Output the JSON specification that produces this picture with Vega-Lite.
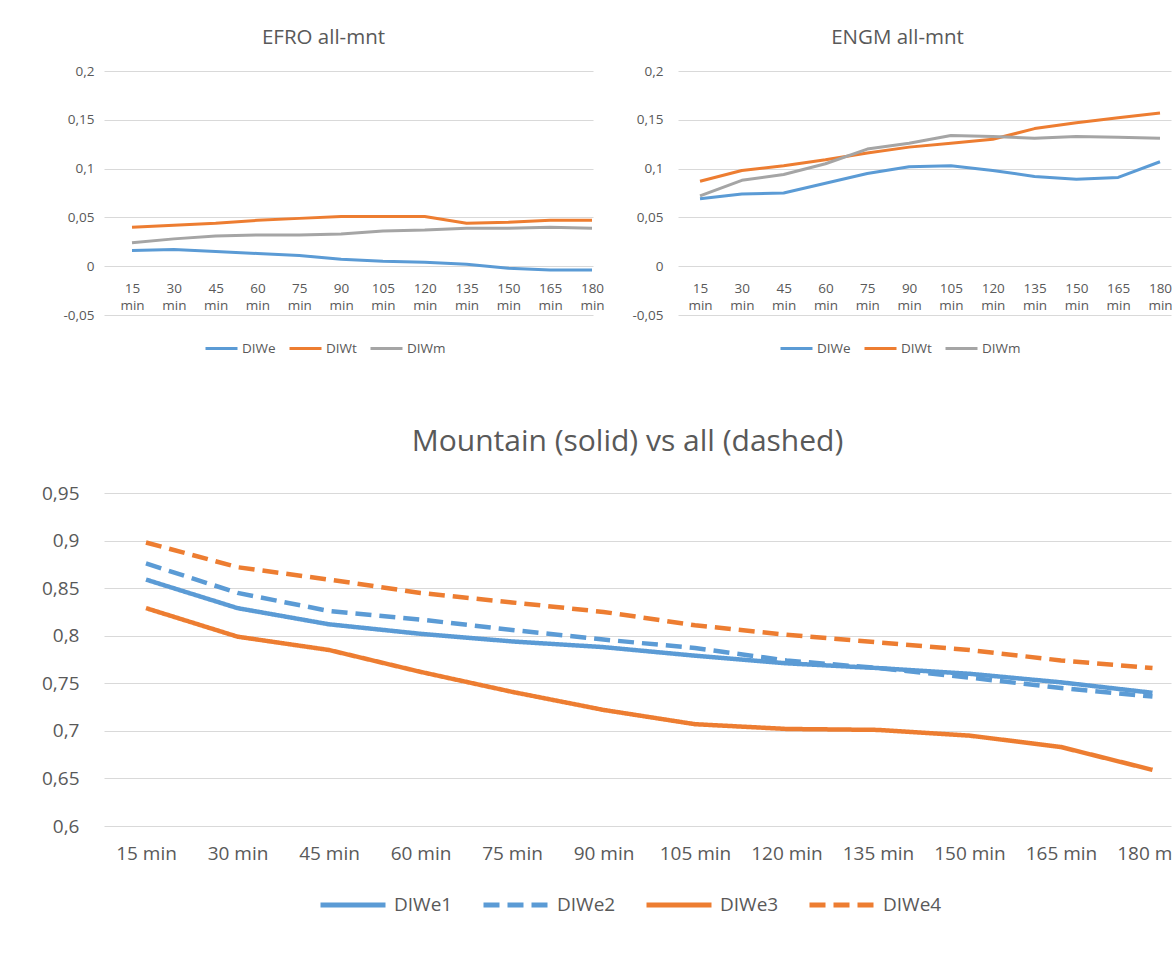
{
  "$schema": "https://vega.github.io/schema/vega-lite/v6.json",
  "background": "white",
  "padding": {"left": 41, "top": 27, "right": -12, "bottom": 0},
  "config": {
    "font": "Open Sans",
    "view": {"stroke": null},
    "axis": {
      "domain": false,
      "ticks": false,
      "gridColor": "#D9D9D9",
      "gridWidth": 1,
      "labelColor": "#595959",
      "labelFont": "Open Sans"
    },
    "title": {"color": "#595959", "font": "Open Sans", "fontWeight": "normal", "anchor": "middle"},
    "legend": {
      "orient": "none",
      "direction": "horizontal",
      "symbolType": "stroke",
      "labelColor": "#595959",
      "labelFont": "Open Sans",
      "labelLimit": 0,
      "padding": 0,
      "title": null
    }
  },
  "datasets": {
    "efro": [
      {"t": "15 min", "s": "DIWe", "v": 0.016}, {"t": "30 min", "s": "DIWe", "v": 0.017}, {"t": "45 min", "s": "DIWe", "v": 0.015},
      {"t": "60 min", "s": "DIWe", "v": 0.013}, {"t": "75 min", "s": "DIWe", "v": 0.011}, {"t": "90 min", "s": "DIWe", "v": 0.007},
      {"t": "105 min", "s": "DIWe", "v": 0.005}, {"t": "120 min", "s": "DIWe", "v": 0.004}, {"t": "135 min", "s": "DIWe", "v": 0.002},
      {"t": "150 min", "s": "DIWe", "v": -0.002}, {"t": "165 min", "s": "DIWe", "v": -0.004}, {"t": "180 min", "s": "DIWe", "v": -0.004},
      {"t": "15 min", "s": "DIWt", "v": 0.040}, {"t": "30 min", "s": "DIWt", "v": 0.042}, {"t": "45 min", "s": "DIWt", "v": 0.044},
      {"t": "60 min", "s": "DIWt", "v": 0.047}, {"t": "75 min", "s": "DIWt", "v": 0.049}, {"t": "90 min", "s": "DIWt", "v": 0.051},
      {"t": "105 min", "s": "DIWt", "v": 0.051}, {"t": "120 min", "s": "DIWt", "v": 0.051}, {"t": "135 min", "s": "DIWt", "v": 0.044},
      {"t": "150 min", "s": "DIWt", "v": 0.045}, {"t": "165 min", "s": "DIWt", "v": 0.047}, {"t": "180 min", "s": "DIWt", "v": 0.047},
      {"t": "15 min", "s": "DIWm", "v": 0.024}, {"t": "30 min", "s": "DIWm", "v": 0.028}, {"t": "45 min", "s": "DIWm", "v": 0.031},
      {"t": "60 min", "s": "DIWm", "v": 0.032}, {"t": "75 min", "s": "DIWm", "v": 0.032}, {"t": "90 min", "s": "DIWm", "v": 0.033},
      {"t": "105 min", "s": "DIWm", "v": 0.036}, {"t": "120 min", "s": "DIWm", "v": 0.037}, {"t": "135 min", "s": "DIWm", "v": 0.039},
      {"t": "150 min", "s": "DIWm", "v": 0.039}, {"t": "165 min", "s": "DIWm", "v": 0.040}, {"t": "180 min", "s": "DIWm", "v": 0.039}
    ],
    "engm": [
      {"t": "15 min", "s": "DIWe", "v": 0.069}, {"t": "30 min", "s": "DIWe", "v": 0.074}, {"t": "45 min", "s": "DIWe", "v": 0.075},
      {"t": "60 min", "s": "DIWe", "v": 0.085}, {"t": "75 min", "s": "DIWe", "v": 0.095}, {"t": "90 min", "s": "DIWe", "v": 0.102},
      {"t": "105 min", "s": "DIWe", "v": 0.103}, {"t": "120 min", "s": "DIWe", "v": 0.098}, {"t": "135 min", "s": "DIWe", "v": 0.092},
      {"t": "150 min", "s": "DIWe", "v": 0.089}, {"t": "165 min", "s": "DIWe", "v": 0.091}, {"t": "180 min", "s": "DIWe", "v": 0.107},
      {"t": "15 min", "s": "DIWt", "v": 0.087}, {"t": "30 min", "s": "DIWt", "v": 0.098}, {"t": "45 min", "s": "DIWt", "v": 0.103},
      {"t": "60 min", "s": "DIWt", "v": 0.109}, {"t": "75 min", "s": "DIWt", "v": 0.116}, {"t": "90 min", "s": "DIWt", "v": 0.122},
      {"t": "105 min", "s": "DIWt", "v": 0.126}, {"t": "120 min", "s": "DIWt", "v": 0.130}, {"t": "135 min", "s": "DIWt", "v": 0.141},
      {"t": "150 min", "s": "DIWt", "v": 0.147}, {"t": "165 min", "s": "DIWt", "v": 0.152}, {"t": "180 min", "s": "DIWt", "v": 0.157},
      {"t": "15 min", "s": "DIWm", "v": 0.072}, {"t": "30 min", "s": "DIWm", "v": 0.088}, {"t": "45 min", "s": "DIWm", "v": 0.094},
      {"t": "60 min", "s": "DIWm", "v": 0.105}, {"t": "75 min", "s": "DIWm", "v": 0.120}, {"t": "90 min", "s": "DIWm", "v": 0.126},
      {"t": "105 min", "s": "DIWm", "v": 0.134}, {"t": "120 min", "s": "DIWm", "v": 0.133}, {"t": "135 min", "s": "DIWm", "v": 0.131},
      {"t": "150 min", "s": "DIWm", "v": 0.133}, {"t": "165 min", "s": "DIWm", "v": 0.132}, {"t": "180 min", "s": "DIWm", "v": 0.131}
    ],
    "mountain": [
      {"t": "15 min", "s": "DIWe1", "v": 0.859}, {"t": "30 min", "s": "DIWe1", "v": 0.829}, {"t": "45 min", "s": "DIWe1", "v": 0.812},
      {"t": "60 min", "s": "DIWe1", "v": 0.802}, {"t": "75 min", "s": "DIWe1", "v": 0.794}, {"t": "90 min", "s": "DIWe1", "v": 0.788},
      {"t": "105 min", "s": "DIWe1", "v": 0.779}, {"t": "120 min", "s": "DIWe1", "v": 0.771}, {"t": "135 min", "s": "DIWe1", "v": 0.766},
      {"t": "150 min", "s": "DIWe1", "v": 0.760}, {"t": "165 min", "s": "DIWe1", "v": 0.751}, {"t": "180 min", "s": "DIWe1", "v": 0.740},
      {"t": "15 min", "s": "DIWe2", "v": 0.876}, {"t": "30 min", "s": "DIWe2", "v": 0.845}, {"t": "45 min", "s": "DIWe2", "v": 0.826},
      {"t": "60 min", "s": "DIWe2", "v": 0.817}, {"t": "75 min", "s": "DIWe2", "v": 0.806}, {"t": "90 min", "s": "DIWe2", "v": 0.796},
      {"t": "105 min", "s": "DIWe2", "v": 0.787}, {"t": "120 min", "s": "DIWe2", "v": 0.774}, {"t": "135 min", "s": "DIWe2", "v": 0.766},
      {"t": "150 min", "s": "DIWe2", "v": 0.756}, {"t": "165 min", "s": "DIWe2", "v": 0.745}, {"t": "180 min", "s": "DIWe2", "v": 0.736},
      {"t": "15 min", "s": "DIWe3", "v": 0.829}, {"t": "30 min", "s": "DIWe3", "v": 0.799}, {"t": "45 min", "s": "DIWe3", "v": 0.785},
      {"t": "60 min", "s": "DIWe3", "v": 0.762}, {"t": "75 min", "s": "DIWe3", "v": 0.741}, {"t": "90 min", "s": "DIWe3", "v": 0.722},
      {"t": "105 min", "s": "DIWe3", "v": 0.707}, {"t": "120 min", "s": "DIWe3", "v": 0.702}, {"t": "135 min", "s": "DIWe3", "v": 0.701},
      {"t": "150 min", "s": "DIWe3", "v": 0.695}, {"t": "165 min", "s": "DIWe3", "v": 0.683}, {"t": "180 min", "s": "DIWe3", "v": 0.659},
      {"t": "15 min", "s": "DIWe4", "v": 0.898}, {"t": "30 min", "s": "DIWe4", "v": 0.872}, {"t": "45 min", "s": "DIWe4", "v": 0.859},
      {"t": "60 min", "s": "DIWe4", "v": 0.845}, {"t": "75 min", "s": "DIWe4", "v": 0.835}, {"t": "90 min", "s": "DIWe4", "v": 0.825},
      {"t": "105 min", "s": "DIWe4", "v": 0.811}, {"t": "120 min", "s": "DIWe4", "v": 0.801}, {"t": "135 min", "s": "DIWe4", "v": 0.793},
      {"t": "150 min", "s": "DIWe4", "v": 0.785}, {"t": "165 min", "s": "DIWe4", "v": 0.774}, {"t": "180 min", "s": "DIWe4", "v": 0.766}
    ]
  },
  "bounds": "flush",
  "spacing": 422,
  "resolve": {"scale": {"color": "independent", "strokeDash": "independent", "x": "independent", "y": "independent"}},
  "vconcat": [
    {
      "bounds": "flush",
      "spacing": 85,
      "resolve": {"scale": {"color": "independent", "x": "independent", "y": "independent"}},
      "hconcat": [
        {
          "width": 489,
          "height": 244,
          "title": {"text": "EFRO all-mnt", "fontSize": 20.5, "offset": 16, "dx": -25},
          "data": {"name": "efro"},
          "mark": {"type": "line", "strokeWidth": 3, "strokeJoin": "round"},
          "encoding": {
            "x": {
              "field": "t", "type": "ordinal",
              "scale": {"type": "point", "domain": ["15 min", "30 min", "45 min", "60 min", "75 min", "90 min", "105 min", "120 min", "135 min", "150 min", "165 min", "180 min"], "padding": 0.3467, "align": 0.9655},
              "axis": {"title": null, "grid": false, "labelAngle": 0, "labelExpr": "split(datum.label, ' ')", "labelFontSize": 13.5, "labelLineHeight": 17.5, "labelPadding": 15, "offset": -49}
            },
            "y": {
              "field": "v", "type": "quantitative",
              "scale": {"domain": [-0.05, 0.2], "nice": false, "zero": false},
              "axis": {"title": null, "grid": true, "values": [-0.05, 0, 0.05, 0.1, 0.15, 0.2], "labelExpr": "replace(toString(datum.value), '.', ',')", "labelFontSize": 13.5, "labelPadding": 10}
            },
            "color": {
              "field": "s", "type": "nominal",
              "scale": {"domain": ["DIWe", "DIWt", "DIWm"], "range": ["#5B9BD5", "#ED7D31", "#A5A5A5"]},
              "legend": {"legendX": 100, "legendY": 260, "symbolSize": 1024, "symbolStrokeWidth": 3, "labelFontSize": 13.5, "labelOffset": 3, "columnPadding": 7}
            }
          }
        },
        {
          "width": 493,
          "height": 244,
          "title": {"text": "ENGM all-mnt", "fontSize": 20.5, "offset": 16, "dx": -27},
          "data": {"name": "engm"},
          "mark": {"type": "line", "strokeWidth": 3, "strokeJoin": "round"},
          "encoding": {
            "x": {
              "field": "t", "type": "ordinal",
              "scale": {"type": "point", "domain": ["15 min", "30 min", "45 min", "60 min", "75 min", "90 min", "105 min", "120 min", "135 min", "150 min", "165 min", "180 min"], "padding": 0.3947, "align": 0.667},
              "axis": {"title": null, "grid": false, "labelAngle": 0, "labelExpr": "split(datum.label, ' ')", "labelFontSize": 13.5, "labelLineHeight": 17.5, "labelPadding": 15, "offset": -49}
            },
            "y": {
              "field": "v", "type": "quantitative",
              "scale": {"domain": [-0.05, 0.2], "nice": false, "zero": false},
              "axis": {"title": null, "grid": true, "values": [-0.05, 0, 0.05, 0.1, 0.15, 0.2], "labelExpr": "replace(toString(datum.value), '.', ',')", "labelFontSize": 13.5, "labelPadding": 15}
            },
            "color": {
              "field": "s", "type": "nominal",
              "scale": {"domain": ["DIWe", "DIWt", "DIWm"], "range": ["#5B9BD5", "#ED7D31", "#A5A5A5"]},
              "legend": {"legendX": 101, "legendY": 260, "symbolSize": 1024, "symbolStrokeWidth": 3, "labelFontSize": 13.5, "labelOffset": 3, "columnPadding": 7}
            }
          }
        }
      ]
    },
    {
      "width": 1067,
      "height": 333,
      "title": {"text": "Mountain (solid) vs all (dashed)", "fontSize": 30, "offset": 27, "dx": -10},
      "data": {"name": "mountain"},
      "mark": {"type": "line", "strokeWidth": 4.5, "strokeJoin": "round"},
      "encoding": {
        "x": {
          "field": "t", "type": "ordinal",
          "scale": {"type": "point", "domain": ["15 min", "30 min", "45 min", "60 min", "75 min", "90 min", "105 min", "120 min", "135 min", "150 min", "165 min", "180 min"], "padding": 0.3306, "align": 0.694},
          "axis": {"title": null, "grid": false, "labelAngle": 0, "labelFontSize": 19, "labelPadding": 18}
        },
        "y": {
          "field": "v", "type": "quantitative",
          "scale": {"domain": [0.6, 0.95], "nice": false, "zero": false},
          "axis": {"title": null, "grid": true, "values": [0.6, 0.65, 0.7, 0.75, 0.8, 0.85, 0.9, 0.95], "labelExpr": "replace(toString(datum.value), '.', ',')", "labelFontSize": 19, "labelPadding": 25}
        },
        "color": {
          "field": "s", "type": "nominal",
          "scale": {"domain": ["DIWe1", "DIWe2", "DIWe3", "DIWe4"], "range": ["#5B9BD5", "#5B9BD5", "#ED7D31", "#ED7D31"]},
          "legend": {"legendX": 214, "legendY": 377, "symbolSize": 4225, "symbolStrokeWidth": 5, "labelFontSize": 19, "labelOffset": 6, "columnPadding": 20}
        },
        "strokeDash": {
          "field": "s", "type": "nominal",
          "scale": {"domain": ["DIWe1", "DIWe2", "DIWe3", "DIWe4"], "range": [[1, 0], [16, 8], [1, 0], [16, 8]]},
          "legend": {"legendX": 214, "legendY": 377, "symbolSize": 4225, "symbolStrokeWidth": 5, "labelFontSize": 19, "labelOffset": 6, "columnPadding": 20}
        }
      }
    }
  ]
}
